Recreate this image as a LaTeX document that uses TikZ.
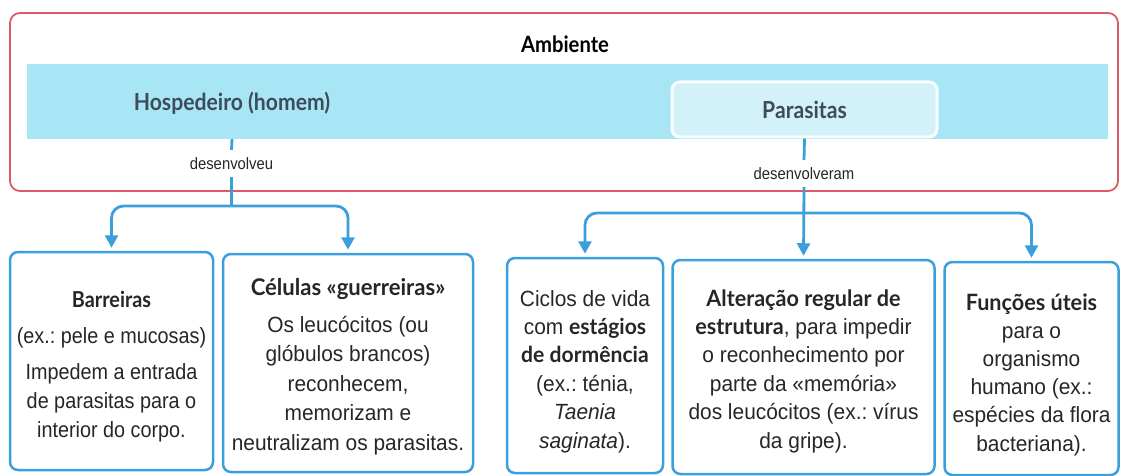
\documentclass[tikz,border=0pt]{standalone}
\usepackage{fontspec}
\setmainfont{Liberation Sans}[FakeStretch=0.9]
\newfontfamily\bodyw{Liberation Sans}[FakeStretch=0.95]
\newfontfamily\hd{Lato}[FakeStretch=0.9]
\newfontfamily\hdw{Lato}[FakeStretch=0.96]
\usetikzlibrary{arrows.meta}
\frenchspacing
\definecolor{redb}{HTML}{DB5A63}
\definecolor{blueb}{HTML}{3A9FDB}
\definecolor{bandc}{HTML}{A8E6F5}
\definecolor{parac}{HTML}{D3F1F8}
\definecolor{hdtxt}{HTML}{3E4C59}
\definecolor{bodytxt}{HTML}{262626}
\newcommand{\hb}[1]{{\hd\bfseries #1}}
\newcommand{\hw}[2]{{\hdw\bfseries\fontsize{#1}{28.4}\selectfont #2}}
\tikzset{
  envbox/.style={draw=redb, line width=1.8pt, rounded corners=10pt, inner sep=0pt},
  bandbox/.style={fill=bandc, draw=none, inner sep=0pt},
  parabox/.style={fill=parac, draw=white!85!parac, line width=3pt, rounded corners=8pt, inner sep=0pt,
    font=\hd\bfseries\fontsize{23.5}{28}\selectfont, text=hdtxt},
  bandtitle/.style={font=\hd\bfseries\fontsize{23.5}{28}\selectfont, text=hdtxt, inner sep=0pt, anchor=base},
  cbox/.style={draw=blueb, line width=2.5pt, rounded corners=8pt, inner sep=0pt},
  ctext/.style={align=center, inner sep=0pt, anchor=base, text=bodytxt},
  lbl/.style={font=\fontsize{16.5}{20}\selectfont, text=bodytxt, minimum height=27pt, inner sep=0pt},
  conn/.style={draw=blueb, line width=2.8pt},
  arr/.style={conn, -{Triangle[width=13pt,length=12.5pt]}, shorten >=3pt, rounded corners=12pt},
}
\begin{document}
\begin{tikzpicture}[x=1pt,y=-1pt]
\useasboundingbox (0,0) rectangle (1122,476);

% environment
\node[envbox, minimum width=1108pt, minimum height=178pt] (env) at (564,102) {};
\node[font=\hd\bfseries\fontsize{22.5}{27}\selectfont, inner sep=0pt, anchor=base] (amb) at (565,53) {Ambiente};
\node[bandbox, minimum width=1081pt, minimum height=75pt] (band) at (567.5,101.5) {};
\node[bandtitle] (hosp) at (232,111) {Hospedeiro (homem)};
\node[parabox, minimum width=265pt, minimum height=55pt] (para) at (804.5,109.5) {Parasitas};

% labels
\node[lbl] (lblL) at (231.5,163.5) {desenvolveu};
\node[lbl] (lblR) at (804,173.5) {desenvolveram};

% boxes
\node[cbox, minimum width=203pt, minimum height=218pt] (b1) at (111.5,361) {};
\node[cbox, minimum width=250pt, minimum height=218pt] (b2) at (348,363) {};
\node[cbox, minimum width=156pt, minimum height=215pt] (b3) at (585,365.5) {};
\node[cbox, minimum width=262pt, minimum height=214pt] (b4) at (803.5,367) {};
\node[cbox, minimum width=174pt, minimum height=213pt] (b5) at (1031.5,368.5) {};

% multi-line texts: anchor=base is the baseline of the last line
\node[ctext, font=\fontsize{22}{29}\selectfont] (t1) at (111.5,437)
  {\hb{Barreiras}\\[7pt](ex.: pele e mucosas)\\[7pt]Impedem a entrada\\de parasitas para o\\interior do corpo.};
\node[ctext, font=\bodyw\fontsize{22}{29.5}\selectfont] (t2) at (348,450)
  {\hw{23}{Células «guerreiras»}\\[7pt]Os leucócitos (ou\\glóbulos brancos)\\reconhecem,\\memorizam e\\neutralizam os parasitas.};
\node[ctext, font=\bodyw\fontsize{22}{28.4}\selectfont] (t3) at (585,448)
  {Ciclos de vida\\com \hw{22}{estágios}\\\hw{22}{de dormência}\\(ex.: ténia,\\\textit{Taenia}\\\textit{saginata}).};
\node[ctext, font=\bodyw\fontsize{22}{28.4}\selectfont] (t4) at (803.5,448)
  {\hw{22.5}{Alteração regular de}\\\hw{22.5}{estrutura}, para impedir\\o reconhecimento por\\parte da «memória»\\dos leucócitos (ex.: vírus\\da gripe).};
\node[ctext, font=\bodyw\fontsize{22}{28.2}\selectfont] (t5) at (1031.5,451)
  {\hw{22.5}{Funções úteis}\\para o\\organismo\\humano (ex.:\\espécies da flora\\bacteriana).};

% connectors host
\draw[conn] (hosp |- band.south) -- (lblL.north);
\coordinate (jL) at (lblL.south |- 0,206);
\draw[conn] (lblL.south) -- (jL);
\draw[arr] (jL) -- (b1.north |- jL) -- (b1.north);
\draw[arr] (jL) -- (b2.north |- jL) -- (b2.north);

% connectors parasites
\draw[conn] (para.south) -- (lblR.north);
\coordinate (jR) at (lblR.south |- 0,213);
\draw[arr] (lblR.south) -- (b4.north);
\draw[arr] (jR) -- (b3.north |- jR) -- (b3.north);
\draw[arr] (jR) -- (b5.north |- jR) -- (b5.north);
\end{tikzpicture}
\end{document}
